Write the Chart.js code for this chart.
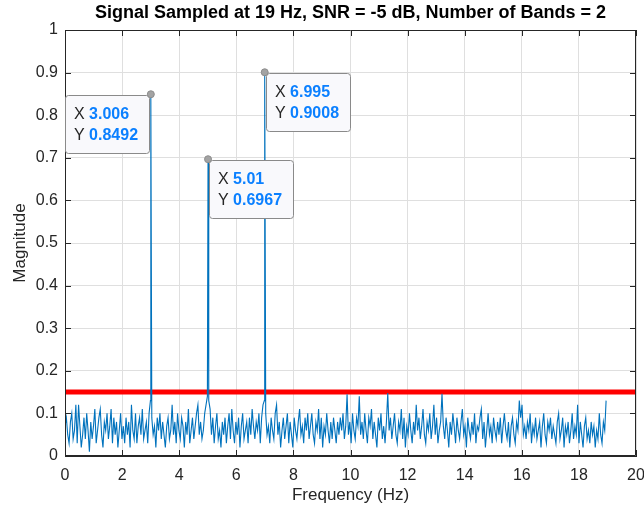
<!DOCTYPE html>
<html>
<head>
<meta charset="utf-8">
<script src="https://cdn.jsdelivr.net/npm/chart.js@4.4.1/dist/chart.umd.min.js"></script>
<style>
  html, body { margin: 0; padding: 0; background: #fff; }
</style>
</head>
<body>
<canvas id="myChart" width="644" height="513"></canvas>
<script>
// spectrum
const titleText = "Signal Sampled at 19 Hz, SNR = -5 dB, Number of Bands = 2";
const freqStep = 0.0475; // Hz between plotted noise bins (0 .. 18.95 Hz)
const noiseMag = [
  0.07,0.09,0.05,0.03,0.08,0.10,0.04,0.06,0.12,0.03,0.12,0.07,0.02,0.05,0.09,0.04,0.10,0.06,0.01,0.08,
  0.04,0.07,0.11,0.03,0.06,0.09,0.11,0.05,0.02,0.08,0.06,0.10,0.04,0.07,0.11,0.03,0.09,0.05,0.08,0.02,
  0.06,0.10,0.04,0.07,0.03,0.09,0.05,0.08,0.02,0.12,0.06,0.04,0.10,0.03,0.07,0.09,0.05,0.11,0.04,0.06,
  0.08,0.03,0.10,0.13,0.09,0.05,0.07,0.02,0.09,0.06,0.10,0.04,0.08,0.05,0.02,0.07,0.09,0.04,0.06,0.12,
  0.05,0.08,0.03,0.10,0.06,0.04,0.09,0.07,0.02,0.08,0.05,0.11,0.03,0.06,0.09,0.04,0.07,0.10,0.12,0.05,
  0.08,0.04,0.06,0.10,0.12,0.14,0.13,0.11,0.05,0.09,0.03,0.07,0.10,0.04,0.06,0.02,0.08,0.05,0.09,0.03,
  0.07,0.10,0.04,0.11,0.06,0.03,0.08,0.05,0.09,0.02,0.07,0.10,0.04,0.06,0.08,0.03,0.09,0.05,0.11,0.07,
  0.04,0.08,0.06,0.10,0.03,0.09,0.12,0.13,0.10,0.05,0.07,0.03,0.09,0.06,0.04,0.10,0.12,0.05,0.08,0.02,
  0.06,0.09,0.04,0.07,0.10,0.03,0.08,0.05,0.02,0.09,0.06,0.04,0.08,0.11,0.05,0.07,0.03,0.09,0.06,0.10,
  0.04,0.07,0.10,0.05,0.03,0.08,0.06,0.11,0.04,0.09,0.02,0.07,0.05,0.10,0.06,0.03,0.08,0.04,0.09,0.06,
  0.03,0.08,0.05,0.09,0.06,0.10,0.04,0.07,0.145,0.05,0.08,0.03,0.10,0.06,0.04,0.09,0.07,0.14,0.05,0.08,
  0.04,0.10,0.06,0.03,0.09,0.07,0.11,0.04,0.08,0.05,0.02,0.09,0.06,0.10,0.04,0.07,0.03,0.08,0.148,0.06,
  0.09,0.04,0.07,0.10,0.05,0.03,0.08,0.06,0.11,0.04,0.09,0.02,0.07,0.05,0.10,0.06,0.03,0.08,0.05,0.12,
  0.06,0.09,0.04,0.07,0.11,0.05,0.03,0.08,0.06,0.10,0.04,0.07,0.12,0.05,0.09,0.03,0.06,0.08,0.146,0.07,
  0.04,0.09,0.06,0.02,0.08,0.05,0.10,0.07,0.03,0.09,0.06,0.04,0.08,0.11,0.05,0.07,0.02,0.09,0.06,0.04,
  0.08,0.05,0.10,0.03,0.07,0.06,0.09,0.11,0.04,0.08,0.02,0.06,0.10,0.05,0.07,0.03,0.09,0.06,0.04,0.08,
  0.05,0.09,0.03,0.07,0.10,0.06,0.04,0.08,0.02,0.07,0.09,0.05,0.03,0.08,0.06,0.13,0.09,0.12,0.05,0.07,
  0.04,0.08,0.06,0.10,0.03,0.07,0.05,0.09,0.04,0.06,0.08,0.02,0.07,0.10,0.05,0.03,0.08,0.06,0.09,0.04,
  0.07,0.05,0.03,0.08,0.10,0.04,0.06,0.09,0.02,0.07,0.05,0.08,0.03,0.06,0.10,0.04,0.07,0.05,0.12,0.03,
  0.08,0.05,0.02,0.07,0.09,0.04,0.06,0.03,0.08,0.05,0.07,0.02,0.06,0.04,0.10,0.05,0.03,0.08,0.06,0.13
];
const peakFreq = [3.006, 5.01, 6.995];
const peakMag = [0.8492, 0.6967, 0.9008];
const peakLabelX = ["3.006", "5.01", "6.995"];
const peakLabelY = ["0.8492", "0.6967", "0.9008"];
const tipSide = ["left", "right", "right"];
const threshold = 0.15;

const FONT = "'Liberation Sans', Arial, Helvetica, sans-serif";
const INK = "#262626";

var spectrum = [];
noiseMag.forEach((m, i) => spectrum.push({ x: i * freqStep, y: m }));
peakFreq.forEach((f, k) => spectrum.push({ x: f, y: peakMag[k] }));
spectrum.sort((a, b) => a.x - b.x);

// title centred over the axes, like matlab does
const axesTitle = {
  id: "axesTitle",
  afterDraw(chart) {
    const { ctx, chartArea } = chart;
    ctx.save();
    ctx.font = "bold 18px " + FONT;
    ctx.fillStyle = "#000";
    ctx.textAlign = "center";
    ctx.textBaseline = "middle";
    ctx.fillText(titleText, (chartArea.left + chartArea.right) / 2, 13);
    ctx.restore();
  }
};

// box + inward tick marks
const axesBox = {
  id: "axesBox",
  afterDatasetsDraw(chart) {
    const { ctx, chartArea: a, scales } = chart;
    const tl = 6;
    ctx.save();
    ctx.strokeStyle = INK;
    ctx.lineWidth = 1;
    ctx.beginPath();
    ctx.rect(a.left + 0.5, a.top + 0.5, a.right - a.left - 1, a.bottom - a.top - 1);
    scales.x.ticks.forEach((t) => {
      const x = Math.round(scales.x.getPixelForValue(t.value)) + 0.5;
      ctx.moveTo(x, a.bottom); ctx.lineTo(x, a.bottom - tl);
      ctx.moveTo(x, a.top); ctx.lineTo(x, a.top + tl);
    });
    scales.y.ticks.forEach((t) => {
      const y = Math.round(scales.y.getPixelForValue(t.value)) + 0.5;
      ctx.moveTo(a.left, y); ctx.lineTo(a.left + tl, y);
      ctx.moveTo(a.right, y); ctx.lineTo(a.right - tl, y);
    });
    ctx.stroke();
    ctx.restore();
  }
};

// data tips on the three peaks
const dataTips = {
  id: "dataTips",
  afterDraw(chart) {
    const { ctx, scales } = chart;
    ctx.save();
    peakFreq.forEach((f, k) => {
      const px = scales.x.getPixelForValue(f);
      const py = scales.y.getPixelForValue(peakMag[k]);

      ctx.font = "16px " + FONT;
      const wx = ctx.measureText("X ").width;
      ctx.font = "bold 16px " + FONT;
      const wv = Math.max(ctx.measureText(peakLabelX[k]).width, ctx.measureText(peakLabelY[k]).width);
      const w = Math.round(wx + wv + 20);
      const h = 58;
      const left = tipSide[k] === "left" ? Math.round(px) - 2 - w : Math.round(px) + 1;
      const top = Math.round(py) + 1;

      ctx.beginPath();
      ctx.roundRect(left + 0.5, top + 0.5, w, h, 3);
      ctx.fillStyle = "#f9f9fc";
      ctx.fill();
      ctx.strokeStyle = "#8a8a8a";
      ctx.lineWidth = 1;
      ctx.stroke();

      ctx.textBaseline = "middle";
      ctx.textAlign = "left";
      const tx = left + 9;
      [["X ", peakLabelX[k], top + 20], ["Y ", peakLabelY[k], top + 41]].forEach(([a, b, y]) => {
        ctx.font = "16px " + FONT;
        ctx.fillStyle = INK;
        ctx.fillText(a, tx, y);
        ctx.font = "bold 16px " + FONT;
        ctx.fillStyle = "#0b80ff";
        ctx.fillText(b, tx + wx, y);
      });

      ctx.beginPath();
      ctx.arc(px, py, 3.5, 0, Math.PI * 2);
      ctx.fillStyle = "#a3a3a3";
      ctx.fill();
      ctx.strokeStyle = "#8c8c8c";
      ctx.stroke();
    });
    ctx.restore();
  }
};

const ctx = document.getElementById("myChart");

const myChart = new Chart(ctx, {
  type: "line",
  data: {
    datasets: [
      {
        label: "spectrum",
        data: spectrum,
        borderColor: "#0072BD",
        borderWidth: 1.1,
        pointRadius: 0,
        tension: 0,
        fill: false,
      },
      {
        label: "threshold",
        data: [{ x: 0, y: threshold }, { x: 20, y: threshold }],
        borderColor: "#ff0000",
        borderWidth: 5,
        pointRadius: 0,
        fill: false,
      },
    ],
  },
  options: {
    responsive: false,
    animation: false,
    devicePixelRatio: 1,
    layout: { padding: { left: 10, right: 8, top: 30, bottom: 7 } },
    plugins: {
      legend: { display: false },
      tooltip: { enabled: false },
      title: { display: false },
    },
    scales: {
      x: {
        type: "linear",
        min: 0,
        max: 20,
        ticks: { stepSize: 2, color: INK, font: { family: FONT, size: 16 }, padding: 10, maxRotation: 0 },
        grid: { color: "#dfdfdf", drawTicks: false },
        border: { color: INK },
        title: { display: true, text: "Frequency (Hz)", color: INK, font: { family: FONT, size: 17 }, padding: 0 },
        afterFit: (s) => { s.height = 50; s.paddingLeft = 0; s.paddingRight = 0; },
      },
      y: {
        min: 0,
        max: 1,
        ticks: {
          stepSize: 0.1, color: INK, font: { family: FONT, size: 16 }, padding: 7,
          callback: (v) => String(Number(v.toFixed(2))),
        },
        grid: { color: "#dfdfdf", drawTicks: false },
        border: { color: INK },
        title: { display: true, text: "Magnitude", color: INK, font: { family: FONT, size: 17 }, padding: 0 },
        afterFit: (s) => { s.width = 55; s.paddingTop = 0; s.paddingBottom = 0; },
      },
    },
  },
  plugins: [axesBox, axesTitle, dataTips],
});
</script>
</body>
</html>
